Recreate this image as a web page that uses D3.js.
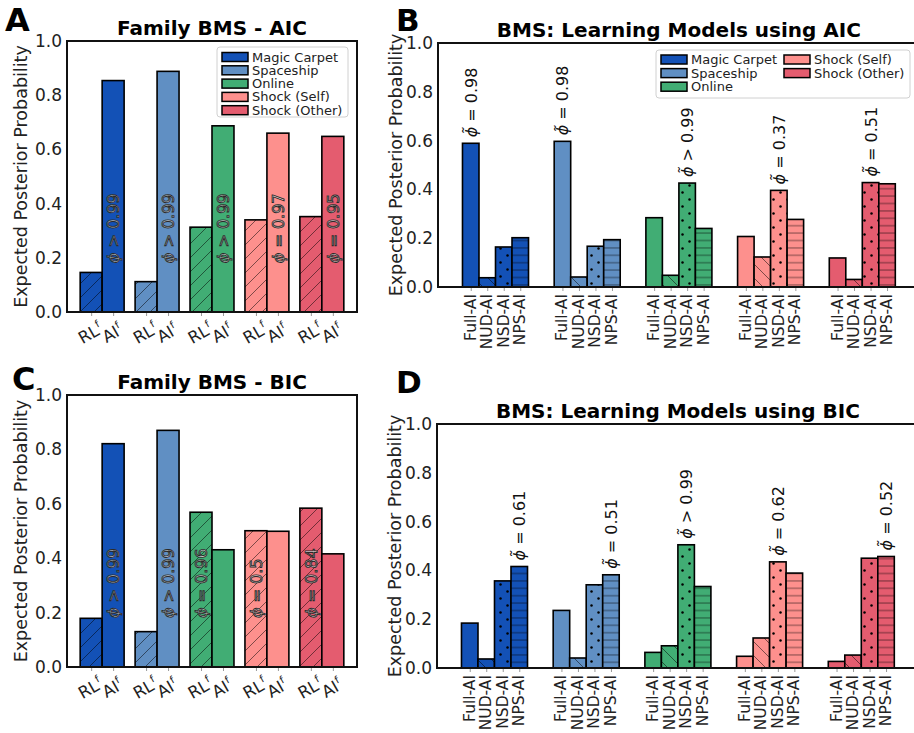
<!DOCTYPE html>
<html><head><meta charset="utf-8">
<script src="https://cdn.jsdelivr.net/npm/d3@7"></script>
<style>
body{margin:0;background:#fff}
svg{display:block;font-family:"DejaVu Sans",sans-serif}
</style></head>
<body><svg id="chart" width="914" height="733"></svg>
<script>
// ---------- data ----------
const categories = ["Magic Carpet", "Spaceship", "Online", "Shock (Self)", "Shock (Other)"];
const colors = ["#1351b6", "#608fc3", "#41ad74", "#fd908d", "#e45c6f"];
const yTicks = [0, 0.2, 0.4, 0.6, 0.8, 1.0];
const familyLabels = ["RL", "AI"];
const modelLabels = ["Full-AI", "NUD-AI", "NSD-AI", "NPS-AI"];

// Panel A: Family BMS - AIC
const famAIC_RL = [0.146, 0.112, 0.313, 0.340, 0.352];
const famAIC_AI = [0.854, 0.888, 0.687, 0.660, 0.648];
const famAIC_phi = ["> 0.99", "> 0.99", "> 0.99", "= 0.97", "= 0.95"];
const famAIC_phiBar = [1, 1, 1, 1, 1];
// Panel C: Family BMS - BIC
const famBIC_RL = [0.179, 0.130, 0.569, 0.501, 0.584];
const famBIC_AI = [0.821, 0.870, 0.431, 0.499, 0.416];
const famBIC_phi = ["> 0.99", "> 0.99", "= 0.96", "= 0.5", "= 0.84"];
const famBIC_phiBar = [1, 1, 0, 0, 0];

// Panel B: Learning models AIC
const aicFull = [0.589, 0.597, 0.284, 0.207, 0.119];
const aicNUD  = [0.038, 0.041, 0.048, 0.123, 0.031];
const aicNSD  = [0.164, 0.167, 0.426, 0.396, 0.428];
const aicNPS  = [0.202, 0.194, 0.240, 0.277, 0.423];
const aicPhi = ["= 0.98", "= 0.98", "> 0.99", "= 0.37", "= 0.51"];
const aicPhiBar = [0, 0, 2, 2, 2];
// Panel D: Learning models BIC
const bicFull = [0.184, 0.236, 0.064, 0.048, 0.027];
const bicNUD  = [0.037, 0.041, 0.091, 0.123, 0.053];
const bicNSD  = [0.357, 0.341, 0.505, 0.435, 0.450];
const bicNPS  = [0.416, 0.382, 0.334, 0.389, 0.457];
const bicPhi = ["= 0.61", "= 0.51", "> 0.99", "= 0.62", "= 0.52"];
const bicPhiBar = [3, 3, 2, 2, 3];

// ---------- drawing ----------
const svg = d3.select("#chart");
const defs = svg.append("defs");
const hatchStroke = "rgba(0,0,0,0.5)";
function linePattern(id, size, d, sw) {
  const p = defs.append("pattern").attr("id", id).attr("patternUnits", "userSpaceOnUse")
    .attr("width", size).attr("height", size);
  p.append("path").attr("d", d).attr("stroke", hatchStroke).attr("stroke-width", sw).attr("fill", "none");
}
const hs = 14;
linePattern("h-fwd", hs, `M0,${hs} L${hs},0 M${-hs/2},${hs/2} L${hs/2},${-hs/2} M${hs/2},${hs*1.5} L${hs*1.5},${hs/2}`, 1);
linePattern("h-back", hs, `M0,0 L${hs},${hs} M${-hs/2},${hs/2} L${hs/2},${hs*1.5} M${hs/2},${-hs/2} L${hs*1.5},${hs/2}`, 1);
linePattern("h-horiz", 7.4, `M0,3.7 L7.4,3.7`, 1);
{
  const p = defs.append("pattern").attr("id", "h-dots").attr("patternUnits", "userSpaceOnUse")
    .attr("width", 14).attr("height", 14);
  p.append("circle").attr("cx", 3.5).attr("cy", 3.5).attr("r", 1.25).attr("fill", "#000");
  p.append("circle").attr("cx", 10.5).attr("cy", 10.5).attr("r", 1.25).attr("fill", "#000");
}

function bar(g, x0, x1, y0, y1, color, pattern) {
  g.append("rect").attr("x", x0).attr("y", y1).attr("width", x1 - x0).attr("height", y0 - y1).attr("fill", color);
  if (pattern) g.append("rect").attr("x", x0).attr("y", y1).attr("width", x1 - x0).attr("height", y0 - y1).attr("fill", `url(#${pattern})`);
  g.append("rect").attr("x", x0).attr("y", y1).attr("width", x1 - x0).attr("height", y0 - y1)
    .attr("fill", "none").attr("stroke", "#000").attr("stroke-width", 1.6);
}

function yAxis(g, y, left, labelX) {
  const ax = g.append("g").attr("transform", `translate(${left},0)`)
    .call(d3.axisLeft(y).tickValues(yTicks).tickFormat(d3.format(".1f")).tickSize(0).tickPadding(5));
  ax.select(".domain").remove();
  ax.selectAll("text").attr("font-size", 17).attr("fill", "#222").attr("font-family", "DejaVu Sans");
  const [b, t] = y.range();
  g.append("text").attr("transform", `translate(${labelX},${(b + t) / 2}) rotate(-90)`)
    .attr("text-anchor", "middle").attr("dominant-baseline", "central")
    .attr("font-size", 17.5).attr("fill", "#222").text("Expected Posterior Probability");
}

function frame(g, x0, x1, y0, y1) {
  g.append("rect").attr("x", x0).attr("y", y1).attr("width", x1 - x0).attr("height", y0 - y1)
    .attr("fill", "none").attr("stroke", "#111").attr("stroke-width", 2);
}

function familyPanel(o) {
  const g = svg.append("g");
  const x = d3.scaleLinear().domain([-0.64, 4.64]).range([o.left, o.right]);
  const y = d3.scaleLinear().domain([0, 1]).range([o.bottom, o.top]);
  const w = 0.4;
  categories.forEach((c, i) => {
    bar(g, x(i - w), x(i), y(0), y(o.rl[i]), colors[i], "h-fwd");
    bar(g, x(i), x(i + w), y(0), y(o.ai[i]), colors[i], null);
  });
  const tickPos = [];
  categories.forEach((c, i) => { tickPos.push(i - w / 2, i + w / 2); });
  const xa = g.append("g").attr("transform", `translate(0,${o.bottom})`)
    .call(d3.axisBottom(x).tickValues(tickPos).tickFormat(() => "").tickSize(4));
  xa.select(".domain").remove();
  xa.selectAll("line").attr("stroke", "#999");
  tickPos.forEach((p, k) => {
    const t = g.append("text").attr("transform", `translate(${x(p) - 1},${o.bottom + 21}) rotate(-30)`)
      .attr("text-anchor", "middle").attr("dominant-baseline", "central")
      .attr("font-size", 16.5).attr("fill", "#222");
    t.append("tspan").text(familyLabels[k % 2]);
    t.append("tspan").attr("font-size", 10).attr("dy", -5).attr("dx", 0.5).text("f");
  });
  categories.forEach((c, i) => {
    const bx = o.phiBar[i] === 0 ? i - w / 2 : i + w / 2;
    const t = g.append("text").attr("transform", `translate(${x(bx)},${y(0.18)}) rotate(-90)`)
      .attr("text-anchor", "start").attr("dominant-baseline", "central")
      .attr("font-size", 16).attr("fill", "rgba(225,225,225,0.85)").attr("stroke", "#2a2a2a").attr("stroke-width", 0.9);
    t.append("tspan").attr("font-style", "italic").text("ϕ");
    t.append("tspan").text(" " + o.phi[i]);
  });
  frame(g, o.left, o.right, o.bottom, o.top);
  yAxis(g, y, o.left, o.labelX);
  g.append("text").attr("x", (o.left + o.right) / 2).attr("y", o.top - 6).attr("text-anchor", "middle")
    .attr("font-size", 20).attr("font-weight", "bold").attr("fill", "#000").text(o.title);
  g.append("text").attr("x", o.letterX).attr("y", o.letterY).attr("font-size", 32).attr("font-weight", "bold")
    .attr("fill", "#000").text(o.letter);
  if (o.legend) {
    const L = o.legend;
    g.append("rect").attr("x", L.x).attr("y", L.y).attr("width", L.w).attr("height", L.h)
      .attr("rx", 3).attr("fill", "rgba(255,255,255,0.85)").attr("stroke", "#d0d0d0");
    categories.forEach((c, i) => {
      const cy = L.y + 10 + i * 13.3;
      g.append("rect").attr("x", L.x + 5).attr("y", cy - 4.5).attr("width", 26).attr("height", 9)
        .attr("fill", colors[i]).attr("stroke", "#000").attr("stroke-width", 1.5);
      g.append("text").attr("x", L.x + 35).attr("y", cy).attr("dominant-baseline", "central")
        .attr("font-size", 13).attr("fill", "#222").text(c);
    });
  }
}

function modelPanel(o) {
  const g = svg.append("g");
  const unit = 91.7;
  const x = d3.scaleLinear().domain([-0.627, 4.627]).range([o.left, o.left + 5.254 * unit]);
  const y = d3.scaleLinear().domain([0, 1]).range([o.bottom, o.top]);
  const w = 0.18;
  const offs = [-1.5 * w, -0.5 * w, 0.5 * w, 1.5 * w];
  const pats = [null, "h-back", "h-dots", "h-horiz"];
  const series = [o.full, o.nud, o.nsd, o.nps];
  const tickPos = [];
  categories.forEach((c, i) => {
    series.forEach((s, k) => {
      const cx = i + offs[k];
      bar(g, x(cx - w / 2), x(cx + w / 2), y(0), y(s[i]), colors[i], pats[k]);
      tickPos.push(cx);
    });
  });
  const xa = g.append("g").attr("transform", `translate(0,${o.bottom})`)
    .call(d3.axisBottom(x).tickValues(tickPos).tickFormat(() => "").tickSize(4));
  xa.select(".domain").remove();
  xa.selectAll("line").attr("stroke", "#999");
  tickPos.forEach((p, k) => {
    g.append("text").attr("transform", `translate(${x(p)},${o.bottom + 7}) rotate(-90)`)
      .attr("text-anchor", "end").attr("dominant-baseline", "central")
      .attr("font-size", 15.5).attr("fill", "#222").text(modelLabels[k % 4]);
  });
  categories.forEach((c, i) => {
    const k = o.phiBar[i];
    const cx = i + offs[k];
    const t = g.append("text").attr("transform", `translate(${x(cx)},${y(series[k][i]) - 6}) rotate(-90)`)
      .attr("text-anchor", "start").attr("dominant-baseline", "central")
      .attr("font-size", 16).attr("fill", "#111");
    t.append("tspan").attr("font-style", "italic").text("ϕ\u0303");
    t.append("tspan").text(" " + o.phi[i]);
  });
  g.append("path").attr("d", `M${x.range()[1]},${o.top} H${o.left} V${o.bottom} H${x.range()[1]} V${o.top}`)
    .attr("fill", "none").attr("stroke", "#111").attr("stroke-width", 2);
  yAxis(g, y, o.left, o.labelX);
  g.append("text").attr("x", (o.left + x.range()[1]) / 2).attr("y", o.titleY).attr("text-anchor", "middle")
    .attr("font-size", 20).attr("font-weight", "bold").attr("fill", "#000").text(o.title);
  g.append("text").attr("x", o.letterX).attr("y", o.letterY).attr("font-size", 31).attr("font-weight", "bold")
    .attr("fill", "#000").text(o.letter);
  if (o.legend) {
    const L = o.legend;
    g.append("rect").attr("x", L.x).attr("y", L.y).attr("width", L.w).attr("height", L.h)
      .attr("rx", 3).attr("fill", "rgba(255,255,255,0.85)").attr("stroke", "#d0d0d0");
    categories.forEach((c, i) => {
      const col = i < 3 ? 0 : 1, row = i < 3 ? i : i - 3;
      const px = L.x + 5 + col * 123, cy = L.y + 9.5 + row * 13.6;
      g.append("rect").attr("x", px).attr("y", cy - 4.5).attr("width", 26).attr("height", 9)
        .attr("fill", colors[i]).attr("stroke", "#000").attr("stroke-width", 1.5);
      g.append("text").attr("x", px + 30).attr("y", cy).attr("dominant-baseline", "central")
        .attr("font-size", 13).attr("fill", "#222").text(c);
    });
  }
}

familyPanel({ left: 67, right: 357, top: 41, bottom: 312, rl: famAIC_RL, ai: famAIC_AI,
  phi: famAIC_phi, phiBar: famAIC_phiBar, title: "Family BMS - AIC", letter: "A", letterX: 5, letterY: 31,
  labelX: 21, legend: { x: 217, y: 47, w: 131, h: 70 } });
familyPanel({ left: 67, right: 357, top: 395, bottom: 667, rl: famBIC_RL, ai: famBIC_AI,
  phi: famBIC_phi, phiBar: famBIC_phiBar, title: "Family BMS - BIC", letter: "C", letterX: 12, letterY: 390,
  labelX: 21 });
modelPanel({ left: 438, top: 43, bottom: 287, full: aicFull, nud: aicNUD, nsd: aicNSD, nps: aicNPS,
  phi: aicPhi, phiBar: aicPhiBar, title: "BMS: Learning Models using AIC", titleY: 37, letter: "B",
  letterX: 396, letterY: 31, labelX: 396, legend: { x: 656, y: 50, w: 254, h: 48 } });
modelPanel({ left: 437, top: 424, bottom: 668, full: bicFull, nud: bicNUD, nsd: bicNSD, nps: bicNPS,
  phi: bicPhi, phiBar: bicPhiBar, title: "BMS: Learning Models using BIC", titleY: 418, letter: "D",
  letterX: 396, letterY: 393, labelX: 395 });
</script></body></html>
